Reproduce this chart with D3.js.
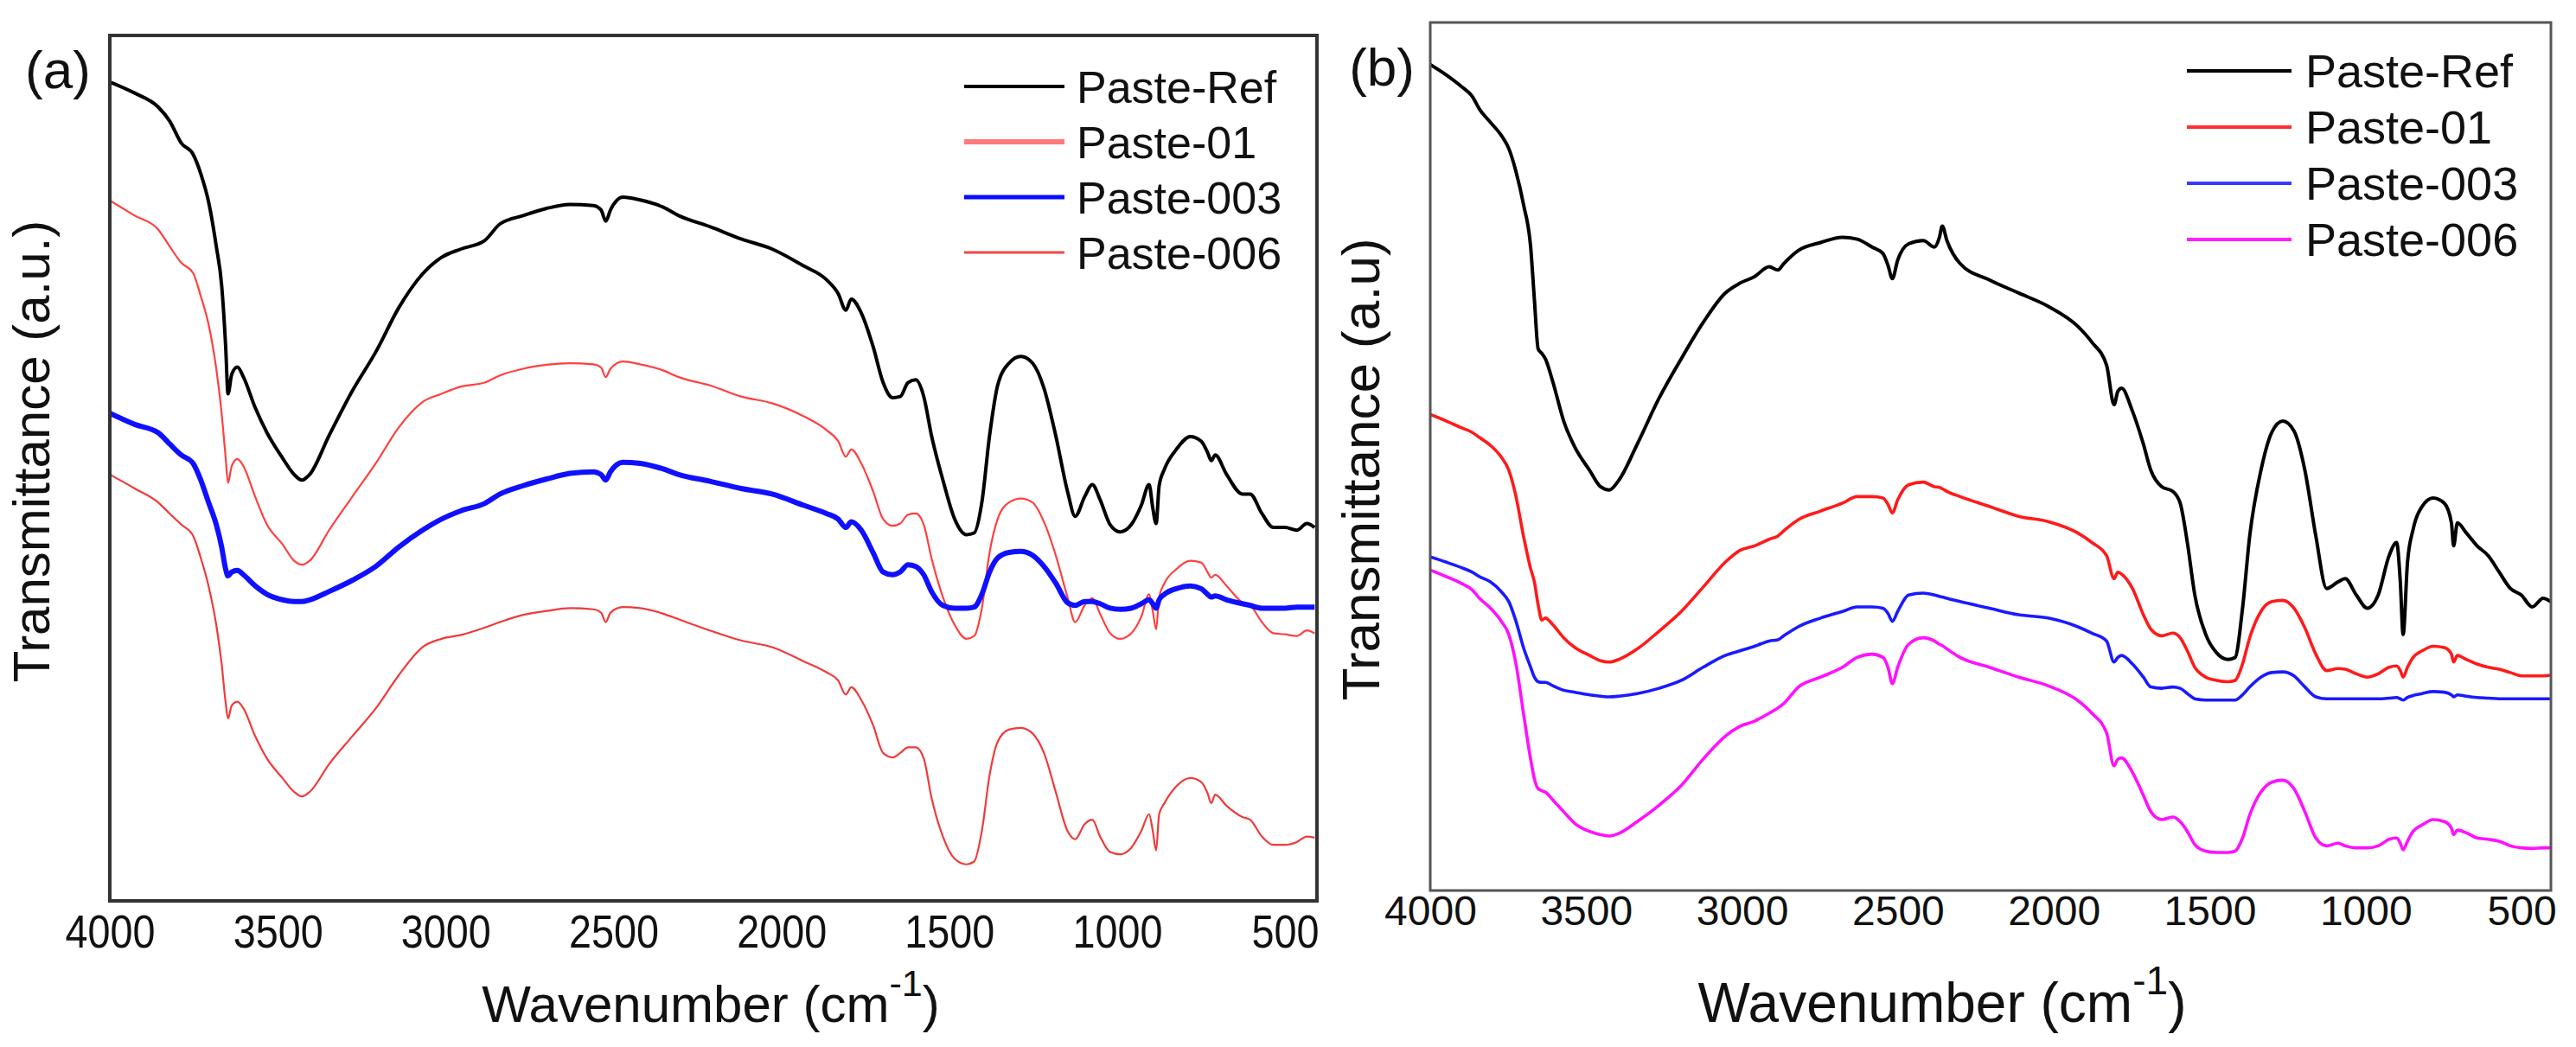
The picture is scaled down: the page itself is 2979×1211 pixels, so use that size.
<!DOCTYPE html>
<html>
<head>
<meta charset="utf-8">
<script src="https://cdn.jsdelivr.net/npm/d3@7"></script>
<style>
    body { margin: 0; background: #fff; }
    svg { display: block; }
    text { font-family: "Liberation Sans", Arial, sans-serif; fill: #111; }
</style>
</head>
<body>
<svg id="chart" width="2979" height="1211"></svg>
<script>
const seriesNames = ['Paste-Ref', 'Paste-01', 'Paste-003', 'Paste-006']
const xTicks = [4000, 3500, 3000, 2500, 2000, 1500, 1000, 500]

// panel (a) - transmittance in arbitrary units
const wavenumbersA = [
    4000, 3926, 3856, 3822, 3787, 3752, 3729, 3706, 3683, 3667,
    3655, 3648, 3637, 3620, 3602, 3567, 3532, 3486, 3451, 3428,
    3405, 3347, 3278, 3208, 3139, 3069, 3012, 2954, 2884, 2838,
    2769, 2699, 2630, 2560, 2537, 2523, 2509, 2472, 2421, 2352,
    2306, 2213, 2120, 2028, 1935, 1866, 1831, 1808, 1792, 1762,
    1727, 1697, 1669, 1646, 1623, 1600, 1576, 1553, 1519, 1484,
    1449, 1426, 1403, 1380, 1356, 1322, 1287, 1252, 1218, 1183,
    1148, 1125, 1097, 1074, 1051, 1021, 991, 958, 928, 905,
    894, 884, 875, 859, 824, 782, 750, 731, 720, 708,
    674, 627, 604, 569, 535, 500, 465, 435, 412
]
const refA = [
    147.0, 145.0, 142.5, 140.0, 136.0, 134.0, 130.5, 125.5, 117.5, 110.5,
    99.5, 91.0, 94.5, 95.8, 94.0, 88.5, 84.0, 79.5, 76.5, 75.5,
    76.5, 83.5, 91.5, 98.5, 106.5, 112.5, 115.5, 117.0, 118.5, 121.5,
    123.0, 124.3, 125.0, 124.8, 124.0, 122.0, 124.0, 126.3, 125.8, 124.5,
    123.0, 121.0, 118.8, 117.0, 114.0, 111.5, 109.0, 106.0, 108.0, 105.5,
    99.5, 93.0, 90.3, 90.5, 93.0, 93.5, 90.5, 83.5, 75.5, 68.5,
    65.7, 66.0, 71.5, 83.5, 92.5, 96.5, 97.7, 96.5, 92.0, 83.5,
    73.5, 69.0, 72.5, 74.7, 72.0, 67.5, 66.2, 67.5, 71.0, 74.7,
    70.5, 67.7, 74.5, 77.5, 81.0, 83.3, 82.5, 80.5, 79.0, 80.0,
    76.5, 73.0, 73.0, 69.5, 67.0, 67.0, 66.5, 67.7, 67.0
]
const paste01A = [
    125.7, 123.0, 120.5, 117.5, 114.5, 112.7, 108.5, 103.5, 95.5, 87.5,
    79.5, 75.0, 78.0, 79.3, 78.0, 72.5, 67.5, 64.0, 61.0, 60.3,
    61.0, 66.5, 72.5, 78.5, 85.0, 89.5, 91.0, 92.3, 93.0, 94.3,
    95.5, 96.2, 96.5, 96.3, 95.7, 94.0, 95.5, 96.8, 96.3, 95.2,
    94.0, 92.5, 90.5, 89.3, 87.0, 84.5, 82.5, 79.7, 81.0, 78.5,
    73.5, 68.5, 67.3, 67.7, 69.3, 69.5, 67.5, 61.5, 54.5, 49.5,
    47.0, 47.5, 52.5, 62.5, 68.5, 71.5, 72.2, 71.5, 68.0, 62.0,
    54.5, 50.0, 53.0, 54.3, 51.5, 48.0, 47.0, 48.0, 51.0, 55.0,
    52.0, 48.7, 54.5, 57.0, 59.5, 61.0, 60.7, 59.0, 58.0, 58.5,
    56.5, 53.5, 53.0, 50.0, 48.0, 47.8, 47.5, 48.5, 48.0
]
const paste003A = [
    87.5, 85.5, 84.0, 82.0, 80.0, 78.5, 75.5, 71.5, 67.5, 63.5,
    59.5, 58.3, 59.0, 59.3, 58.5, 56.5, 55.0, 54.0, 53.7, 53.7,
    54.0, 55.5, 57.5, 60.0, 63.5, 66.5, 68.5, 70.0, 71.3, 73.0,
    74.5, 75.7, 76.7, 77.0, 76.5, 75.5, 77.0, 78.7, 78.5, 77.5,
    76.5, 75.3, 74.0, 73.0, 71.0, 69.5, 68.5, 67.0, 68.0, 66.5,
    62.5, 59.0, 58.5, 59.0, 60.3, 60.0, 58.5, 55.5, 53.0, 52.5,
    52.5, 52.7, 55.0, 59.0, 61.5, 62.5, 62.7, 62.0, 60.0, 57.0,
    53.5, 53.0, 53.7, 53.7, 53.3, 52.5, 52.3, 52.5, 53.3, 54.0,
    53.3, 52.5, 54.0, 55.0, 56.0, 56.5, 56.0, 55.0, 54.5, 54.7,
    54.0, 53.3, 53.0, 52.5, 52.5, 52.5, 52.7, 52.7, 52.7
]
const paste006A = [
    76.5, 74.0, 71.5, 69.5, 67.5, 65.5, 61.5, 56.5, 49.5, 42.5,
    35.5, 32.7, 35.0, 35.7, 34.5, 29.5, 25.5, 22.0, 19.5, 18.7,
    19.5, 24.5, 29.5, 34.5, 40.5, 45.5, 47.0, 47.7, 49.0, 50.0,
    51.3, 52.0, 52.5, 52.3, 51.7, 50.0, 51.7, 52.7, 52.5, 51.5,
    50.5, 48.5, 46.7, 45.5, 43.0, 41.0, 39.5, 37.0, 38.3, 36.0,
    31.5, 26.5, 25.7, 26.5, 27.5, 27.5, 25.5, 18.5, 11.5, 7.5,
    6.5, 7.0, 12.5, 22.5, 28.5, 30.7, 31.0, 30.0, 26.5, 19.5,
    12.5, 11.0, 13.7, 14.5, 11.5, 8.7, 8.3, 9.5, 12.5, 15.5,
    12.5, 9.0, 15.5, 17.5, 20.5, 22.0, 21.3, 19.3, 17.5, 19.0,
    17.0, 15.0, 14.5, 11.5, 10.0, 10.0, 10.5, 11.5, 11.3
]

// panel (b)
const wavenumbersB = [
    4000, 3948, 3901, 3866, 3842, 3807, 3772, 3748, 3725, 3701,
    3678, 3666, 3654, 3642, 3631, 3607, 3572, 3536, 3489, 3454,
    3426, 3395, 3336, 3266, 3195, 3125, 3054, 3007, 2960, 2913,
    2885, 2866, 2819, 2748, 2678, 2631, 2583, 2548, 2532, 2518,
    2501, 2466, 2419, 2383, 2367, 2358, 2343, 2301, 2207, 2113,
    2019, 1925, 1878, 1831, 1807, 1795, 1783, 1748, 1713, 1689,
    1654, 1619, 1595, 1572, 1548, 1513, 1478, 1442, 1419, 1395,
    1372, 1336, 1301, 1266, 1230, 1195, 1160, 1125, 1089, 1066,
    1030, 995, 960, 925, 901, 889, 880, 866, 848, 819,
    784, 748, 725, 718, 706, 678, 643, 607, 572, 536,
    501, 466, 431, 407
]
const refB = [
    125.8, 124.2, 122.5, 121.0, 119.0, 117.0, 115.0, 113.0, 109.5, 104.5,
    98.0, 90.0, 82.5, 81.8, 81.0, 77.5, 71.5, 67.5, 64.0, 61.5,
    61.0, 62.5, 68.0, 75.0, 81.0, 86.5, 91.0, 92.5, 93.5, 95.0,
    94.5, 95.5, 97.5, 98.7, 99.5, 99.2, 98.0, 97.0, 95.2, 93.2,
    96.0, 98.5, 99.0, 98.0, 99.5, 101.2, 99.0, 95.5, 93.0, 91.0,
    89.0, 86.0, 83.5, 80.0, 74.0, 76.0, 76.5, 73.0, 68.0, 64.0,
    61.5, 60.8, 59.0, 53.0, 45.0, 39.0, 36.2, 35.2, 35.5, 43.0,
    54.0, 64.0, 69.8, 71.5, 70.0, 64.0, 54.0, 46.0, 47.0, 47.5,
    45.0, 43.0, 45.0, 51.0, 53.0, 47.0, 39.0, 50.0, 55.0, 58.5,
    59.8, 59.0, 56.0, 52.5, 56.0, 54.5, 52.5, 51.0, 48.5, 46.0,
    45.0, 43.2, 44.5, 44.0
]
const paste01B = [
    72.5, 71.5, 70.5, 69.8, 69.0, 67.8, 66.0, 64.0, 60.0, 54.0,
    49.0, 47.0, 43.5, 41.2, 41.5, 40.5, 38.5, 37.0, 35.8, 35.0,
    34.8, 35.2, 36.8, 39.5, 42.5, 46.2, 50.0, 51.8, 52.5, 53.5,
    54.0, 54.8, 56.5, 57.8, 59.0, 60.0, 60.0, 59.8, 58.8, 57.5,
    59.5, 61.8, 62.2, 61.5, 61.4, 61.2, 60.8, 60.0, 58.5, 57.0,
    56.2, 54.5, 53.0, 51.0, 47.5, 48.5, 48.2, 46.0, 42.0, 39.8,
    38.8, 39.2, 38.5, 36.5, 34.0, 32.5, 32.0, 31.8, 32.0, 34.5,
    38.5, 42.5, 44.0, 44.2, 43.0, 40.0, 36.0, 33.5, 33.8, 33.7,
    33.0, 32.5, 33.0, 34.0, 34.2, 33.5, 32.5, 34.0, 35.5, 36.5,
    37.2, 37.0, 36.0, 34.8, 35.8, 35.2, 34.5, 34.0, 33.7, 33.2,
    32.7, 32.7, 32.7, 32.8
]
const paste003B = [
    50.8, 50.0, 49.2, 48.5, 47.8, 47.0, 45.5, 44.0, 41.0, 37.0,
    34.0, 32.5, 31.8, 31.7, 31.7, 31.2, 30.5, 30.2, 29.8, 29.6,
    29.5, 29.6, 30.0, 30.8, 32.0, 34.0, 35.8, 36.5, 37.2, 38.0,
    38.2, 38.8, 40.2, 41.5, 42.5, 43.2, 43.2, 43.0, 42.2, 41.0,
    42.5, 45.0, 45.3, 45.0, 44.8, 44.7, 44.5, 44.0, 43.0, 42.0,
    41.5, 40.2, 39.2, 38.0, 34.8, 35.5, 35.8, 34.5, 32.5, 31.0,
    30.8, 31.0, 30.8, 30.0, 29.2, 29.0, 29.0, 29.0, 29.0, 29.8,
    31.0, 32.5, 33.2, 33.3, 32.7, 31.0, 29.5, 29.2, 29.2, 29.2,
    29.2, 29.2, 29.2, 29.3, 29.4, 29.2, 29.0, 29.4, 29.7, 30.0,
    30.3, 30.2, 29.8, 29.5, 29.8, 29.6, 29.4, 29.3, 29.2, 29.2,
    29.2, 29.2, 29.2, 29.2
]
const paste006B = [
    48.8, 47.8, 46.8, 45.8, 44.5, 43.0, 41.0, 39.0, 34.5, 27.0,
    20.0, 17.0, 15.5, 15.2, 15.0, 13.8, 12.0, 10.2, 9.0, 8.5,
    8.3, 8.7, 10.5, 13.0, 16.0, 20.0, 23.5, 25.0, 25.8, 27.0,
    27.8, 28.5, 31.0, 32.5, 34.0, 35.5, 36.0, 35.5, 34.0, 31.5,
    34.0, 37.5, 38.5, 38.0, 37.5, 37.3, 36.8, 35.5, 34.0, 32.5,
    31.2, 29.0, 27.0, 24.0, 19.0, 20.0, 20.2, 18.0, 14.5, 12.0,
    10.8, 11.2, 10.5, 9.0, 7.0, 6.0, 5.8, 5.8, 6.0, 8.0,
    11.5, 15.0, 16.5, 16.8, 15.5, 12.0, 8.0, 6.8, 7.2, 6.8,
    6.5, 6.5, 6.8, 7.8, 8.0, 7.2, 6.2, 7.5, 9.0, 10.0,
    10.8, 10.5, 9.5, 8.5, 9.2, 8.8, 8.0, 7.8, 7.5, 6.8,
    6.5, 6.4, 6.5, 6.5
]

const svg = d3.select('#chart')
svg.append('rect').attr('width', 2979).attr('height', 1211).attr('fill', '#fff')

function drawPanel(p) {
    const x = d3.scaleLinear().domain(p.xDomain).range([p.left, p.right])
    const y = d3.scaleLinear().domain(p.yDomain).range([p.yBottom, p.yTop])

    const g = svg.append('g').attr('class', p.id)

    g.append('clipPath').attr('id', p.id + '-clip')
        .append('rect')
        .attr('x', p.left).attr('y', p.frameTop)
        .attr('width', p.right - p.left).attr('height', p.frameBottom - p.frameTop)

    const line = d3.line()
        .x(d => x(d[0]))
        .y(d => y(d[1]))
        .curve(d3.curveMonotoneX)

    const lines = g.append('g').attr('clip-path', `url(#${p.id}-clip)`)
    p.series.forEach((values, i) => {
        lines.append('path')
            .datum(d3.zip(p.wavenumbers, values))
            .attr('d', line)
            .attr('fill', 'none')
            .attr('stroke', p.colors[i])
            .attr('stroke-width', p.widths[i])
            .attr('stroke-linejoin', 'round')
    })

    // frame
    g.append('rect')
        .attr('x', p.left).attr('y', p.frameTop)
        .attr('width', p.right - p.left).attr('height', p.frameBottom - p.frameTop)
        .attr('fill', 'none')
        .attr('stroke', p.frameColor)
        .attr('stroke-width', p.frameWidth)

    const axis = g.append('g')
        .attr('transform', `translate(0,${p.frameBottom})`)
        .call(d3.axisBottom(x).tickValues(xTicks).tickSize(0).tickPadding(p.tickPad).tickFormat(d3.format('d')))
    axis.select('.domain').remove()
    axis.attr('font-family', p.tickFont).attr('font-size', p.tickSize)
    axis.selectAll('text').attr('fill', '#111')
    if (p.tickLen) {
        axis.selectAll('text')
            .attr('textLength', d => String(d).length * p.tickLen)
            .attr('lengthAdjust', 'spacingAndGlyphs')
    }

    // legend
    const legend = g.append('g')
    seriesNames.forEach((name, i) => {
        const ly = p.legend.y + i * p.legend.step
        legend.append('line')
            .attr('x1', p.legend.x1).attr('x2', p.legend.x2)
            .attr('y1', ly).attr('y2', ly)
            .attr('stroke', p.legendColors[i])
            .attr('stroke-width', p.legendWidths[i])
        legend.append('text')
            .attr('x', p.legend.tx).attr('y', ly + p.legend.size * 0.36)
            .attr('font-size', p.legend.size)
            .text(name)
    })

    // axis titles
    const xt = g.append('text')
        .attr('x', p.xTitle.x).attr('y', p.xTitle.y)
        .attr('text-anchor', 'middle')
        .attr('font-size', p.xTitle.size)
    xt.append('tspan').text('Wavenumber (cm')
    xt.append('tspan').attr('dy', -p.xTitle.size * 0.5).attr('font-size', p.xTitle.size * 0.72).text('-1')
    xt.append('tspan').attr('dy', p.xTitle.size * 0.5).text(')')

    g.append('text')
        .attr('transform', `translate(${p.yTitle.x},${p.yTitle.y}) rotate(-90)`)
        .attr('text-anchor', 'middle')
        .attr('font-size', p.yTitle.size)
        .text(p.yTitle.text)

    g.append('text')
        .attr('x', p.tag.x).attr('y', p.tag.y)
        .attr('text-anchor', p.tag.anchor)
        .attr('font-size', p.tag.size)
        .text(p.tag.text)
}

drawPanel({
    id: 'panelA',
    wavenumbers: wavenumbersA,
    series: [refA, paste01A, paste003A, paste006A],
    xDomain: [4000, 405], left: 127, right: 1523,
    yDomain: [0, 155.5], yBottom: 1041.6, yTop: 40,
    frameTop: 41, frameBottom: 1042,
    frameColor: '#333', frameWidth: 4,
    colors: ['#000', '#ff4040', '#1010ff', '#f03a3a'],
    widths: [4, 2.2, 6, 2.2],
    legendColors: ['#000', '#ff7a7a', '#0a0aff', '#f04848'],
    legendWidths: [4, 6, 5, 3],
    legend: { x1: 1115, x2: 1231, tx: 1245, y: 100, step: 64, size: 52 },
    tickFont: '"Liberation Sans", Arial, sans-serif', tickSize: 54, tickPad: 16, tickLen: 26,
    xTitle: { x: 822, y: 1182, size: 60 },
    yTitle: { x: 57, y: 522, size: 60, text: 'Transmittance (a.u.)' },
    tag: { x: 29, y: 102, size: 62, anchor: 'start', text: '(a)' }
})

drawPanel({
    id: 'panelB',
    wavenumbers: wavenumbersB,
    series: [refB, paste01B, paste003B, paste006B],
    xDomain: [4000, 406], left: 1654, right: 2950,
    yDomain: [0, 133], yBottom: 1030, yTop: 20,
    frameTop: 26, frameBottom: 1030,
    frameColor: '#555', frameWidth: 3,
    colors: ['#000', '#ff1a1a', '#1a1aff', '#ff10ff'],
    widths: [4, 3.6, 3.6, 3.6],
    legendColors: ['#000', '#ff3030', '#3a3aff', '#ff20ff'],
    legendWidths: [4, 4, 4, 4],
    legend: { x1: 2529, x2: 2650, tx: 2666, y: 82, step: 65, size: 54 },
    tickFont: '"Liberation Sans", Arial, sans-serif', tickSize: 48, tickPad: 6, tickLen: 0,
    xTitle: { x: 2246, y: 1182, size: 64 },
    yTitle: { x: 1595, y: 543, size: 62, text: 'Transmittance (a.u)' },
    tag: { x: 1636, y: 99, size: 62, anchor: 'end', text: '(b)' }
})
</script>
</body>
</html>
